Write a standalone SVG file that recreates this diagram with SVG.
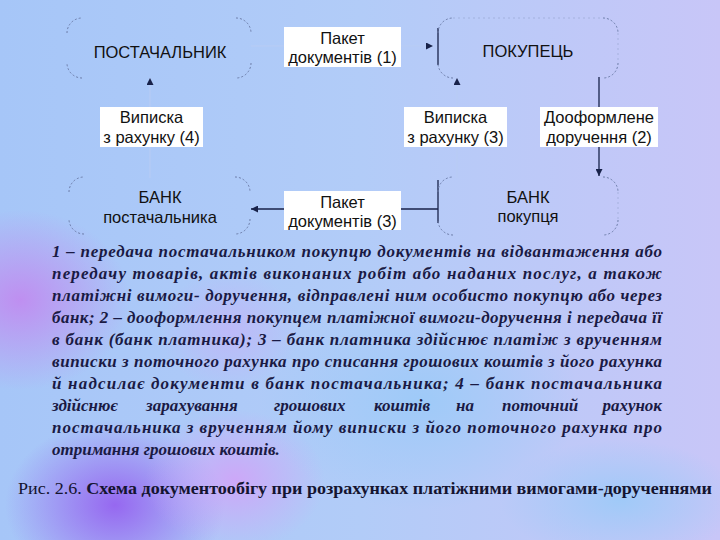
<svg xmlns="http://www.w3.org/2000/svg" width="720" height="540" viewBox="0 0 720 540">
<defs>
<linearGradient id="bg" x1="0" y1="0" x2="1" y2="0">
<stop offset="0" stop-color="#a6c6f8"/>
<stop offset="0.5" stop-color="#b2ccf8"/>
<stop offset="1" stop-color="#c8c6f8"/>
</linearGradient>
<radialGradient id="p1" cx="0.5" cy="0.5" r="0.5">
<stop offset="0" stop-color="#c08cf0" stop-opacity="0.95"/>
<stop offset="1" stop-color="#c08cf0" stop-opacity="0"/>
</radialGradient>
<radialGradient id="p2" cx="0.5" cy="0.5" r="0.5">
<stop offset="0" stop-color="#9668f0" stop-opacity="1"/>
<stop offset="1" stop-color="#9668f0" stop-opacity="0"/>
</radialGradient>
<radialGradient id="p3" cx="0.5" cy="0.5" r="0.5">
<stop offset="0" stop-color="#d0a4f8" stop-opacity="0.9"/>
<stop offset="1" stop-color="#d0a4f8" stop-opacity="0"/>
</radialGradient>
<radialGradient id="b1" cx="0.5" cy="0.5" r="0.5">
<stop offset="0" stop-color="#9ccaf8" stop-opacity="0.9"/>
<stop offset="1" stop-color="#9ccaf8" stop-opacity="0"/>
</radialGradient>
<marker id="ah" viewBox="0 0 8 8" refX="8" refY="4" markerWidth="7" markerHeight="7" markerUnits="userSpaceOnUse" orient="auto">
<path d="M0,0 L8,4 L0,8 z" fill="#18224a"/>
</marker>
<style>
.corner{fill:none;stroke:#6c7ca8;stroke-width:1;stroke-dasharray:2 2;}
.edge{fill:none;stroke:#8a9ac4;stroke-width:0.8;stroke-dasharray:2 3;opacity:0.6;}
.lbl{font-family:"Liberation Sans",Arial,sans-serif;font-size:16.5px;fill:#111;text-anchor:middle;}
.box{fill:#ffffff;}
.dk{fill:none;stroke:#18224a;stroke-width:1.3;}
.fa{fill:none;stroke:#b8ccf4;stroke-width:1;}
.para{font-family:"Liberation Serif","DejaVu Serif",serif;font-style:italic;font-weight:bold;font-size:17px;fill:#1a1a44;}
.cap{font-family:"Liberation Serif","DejaVu Serif",serif;font-size:17px;fill:#141430;}
</style>
</defs>

<rect x="0" y="0" width="720" height="540" fill="url(#bg)"/>
<ellipse cx="20" cy="300" rx="110" ry="90" fill="url(#p1)"/>
<ellipse cx="115" cy="505" rx="110" ry="85" fill="url(#p2)"/>
<ellipse cx="235" cy="480" rx="90" ry="70" fill="url(#p3)"/>
<ellipse cx="230" cy="330" rx="70" ry="60" fill="url(#p3)" opacity="0.5"/>
<ellipse cx="420" cy="400" rx="160" ry="110" fill="url(#b1)"/>
<ellipse cx="620" cy="500" rx="120" ry="60" fill="url(#b1)"/>

<g id="connectors">
<path class="fa" d="M251,46 L284,46"/>
<path class="fa" d="M401,46 L433,46" marker-end="url(#ah)"/>
<path class="dk" d="M438,28 L438,65"/>
<path class="dk" d="M599,77 L599,176" marker-end="url(#ah)"/>
<path class="dk" d="M438,180 L438,223"/>
<path class="dk" d="M401,209 L438,209"/>
<path class="dk" d="M285,209 L251,209" marker-end="url(#ah)"/>
<path class="fa" d="M150,178 L150,147"/>
<path class="fa" d="M150,107 L150,78" marker-end="url(#ah)"/>
<path class="fa" d="M457,178 L457,147"/>
<path class="fa" d="M457,107 L457,78" marker-end="url(#ah)"/>
</g>

<g id="postachalnyk">
<path class="corner" d="M67,33 A15,15 0 0 1 82,18 M236,18 A15,15 0 0 1 251,33 M251,63 A15,15 0 0 1 236,78 M82,78 A15,15 0 0 1 67,63"/>
<text class="lbl" x="160" y="58">ПОСТАЧАЛЬНИК</text>
</g>

<g id="pokupets">
<path class="corner" d="M438,33 A15,15 0 0 1 453,18 M603,18 A15,15 0 0 1 618,33 M618,63 A15,15 0 0 1 603,78 M453,78 A15,15 0 0 1 438,63"/>
<path class="edge" d="M453,18 L603,18 M618,33 L618,63"/>
<text class="lbl" x="528" y="57">ПОКУПЕЦЬ</text>
</g>

<g id="bank-postachalnyka">
<path class="corner" d="M69,192 A15,15 0 0 1 84,177 M235,177 A15,15 0 0 1 250,192 M250,219 A15,15 0 0 1 235,234 M84,234 A15,15 0 0 1 69,219"/>
<text class="lbl" x="160" y="203">БАНК</text>
<text class="lbl" x="160" y="223">постачальника</text>
</g>

<g id="bank-pokuptsia">
<path class="corner" d="M438,192 A15,15 0 0 1 453,177 M603,177 A15,15 0 0 1 618,192 M618,220 A15,15 0 0 1 603,235 M453,235 A15,15 0 0 1 438,220"/>
<path class="edge" d="M618,192 L618,220"/>
<text class="lbl" x="528" y="203">БАНК</text>
<text class="lbl" x="528" y="222">покупця</text>
</g>

<g id="paket1">
<rect class="box" x="284" y="27" width="117" height="40"/>
<text class="lbl" x="342.5" y="44">Пакет</text>
<text class="lbl" x="342.5" y="63">документів (1)</text>
</g>

<g id="vypyska4">
<rect class="box" x="100" y="107" width="103" height="40"/>
<text class="lbl" x="151.5" y="123">Виписка</text>
<text class="lbl" x="151.5" y="143">з рахунку (4)</text>
</g>

<g id="vypyska3">
<rect class="box" x="404" y="107" width="103" height="40"/>
<text class="lbl" x="455.5" y="123">Виписка</text>
<text class="lbl" x="455.5" y="143">з рахунку (3)</text>
</g>

<g id="dooformlene2">
<rect class="box" x="540" y="107" width="118" height="40"/>
<text class="lbl" x="599" y="123">Дооформлене</text>
<text class="lbl" x="599" y="143">доручення (2)</text>
</g>

<g id="paket3">
<rect class="box" x="284" y="191" width="117" height="39"/>
<text class="lbl" x="342.5" y="208">Пакет</text>
<text class="lbl" x="342.5" y="227">документів (3)</text>
</g>

<g id="description">
<text class="para" x="52" y="257" textLength="610" lengthAdjust="spacing">1 – передача постачальником покупцю документів на відвантаження або</text>
<text class="para" x="52" y="279" textLength="610" lengthAdjust="spacing">передачу товарів, актів виконаних робіт або наданих послуг, а також</text>
<text class="para" x="52" y="301" textLength="610" lengthAdjust="spacing">платіжні вимоги- доручення, відправлені ним особисто покупцю або через</text>
<text class="para" x="52" y="323" textLength="610" lengthAdjust="spacing">банк; 2 – дооформлення покупцем платіжної вимоги-доручення і передача її</text>
<text class="para" x="52" y="345" textLength="610" lengthAdjust="spacing">в банк (банк платника); 3 – банк платника здійснює платіж з врученням</text>
<text class="para" x="52" y="367" textLength="610" lengthAdjust="spacing">виписки з поточного рахунка про списання грошових коштів з його рахунка</text>
<text class="para" x="52" y="389" textLength="610" lengthAdjust="spacing">й надсилає документи в банк постачальника; 4 – банк постачальника</text>
<text class="para" x="52" y="411">здійснює</text>
<text class="para" x="146" y="411">зарахування</text>
<text class="para" x="274" y="411">грошових</text>
<text class="para" x="374" y="411">коштів</text>
<text class="para" x="456" y="411">на</text>
<text class="para" x="502" y="411">поточний</text>
<text class="para" x="662" y="411" text-anchor="end">рахунок</text>
<text class="para" x="52" y="433" textLength="610" lengthAdjust="spacing">постачальника з врученням йому виписки з його поточного рахунка про</text>
<text class="para" x="52" y="455">отримання грошових коштів.</text>
</g>

<text class="cap" x="18" y="494" textLength="694" lengthAdjust="spacingAndGlyphs">Рис. 2.6. <tspan font-weight="bold">Схема документообігу при розрахунках платіжними вимогами-дорученнями</tspan></text>
</svg>
